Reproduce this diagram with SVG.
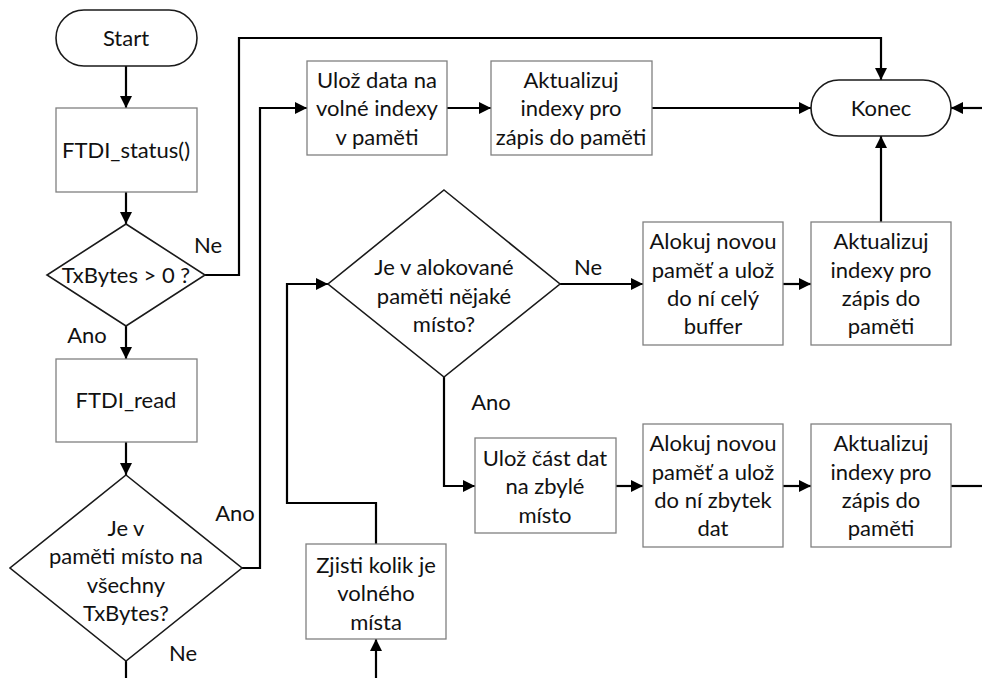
<svg xmlns="http://www.w3.org/2000/svg" width="982" height="678" viewBox="0 0 982 678">
  <defs>
    <marker id="arrow" markerUnits="userSpaceOnUse" markerWidth="13" markerHeight="13" refX="12" refY="6" orient="auto">
      <path d="M0,0 L12,6 L0,12 Z" fill="#000"/>
    </marker>
    <style>
      text { font-family: Lato, "Liberation Sans", sans-serif; font-size: 22px; fill: #111; text-anchor: middle; }
      .term { fill: #fff; stroke: #1a1a1a; stroke-width: 1.6; }
      .proc { fill: #fff; stroke: #808080; stroke-width: 1.3; }
      .dec { fill: #fff; stroke: #1a1a1a; stroke-width: 1.6; }
      .conn { fill: none; stroke: #000; stroke-width: 2.2; }
      .conn.arr { marker-end: url(#arrow); }
    </style>
  </defs>
  <rect width="982" height="678" fill="#fff"/>

  <!-- connectors -->
  <g id="connectors">
    <path class="conn arr" d="M126,66 V108"/>
    <path class="conn arr" d="M126,192 V224"/>
    <path class="conn arr" d="M205,275 H239 V38 H881 V80"/>
    <path class="conn arr" d="M126,326 V359"/>
    <path class="conn arr" d="M126,442 V475"/>
    <path class="conn arr" d="M242,568 H260 V108 H307"/>
    <path class="conn" d="M126,661 V678"/>
    <path class="conn arr" d="M447,108 H491"/>
    <path class="conn arr" d="M652,108 H811"/>
    <path class="conn arr" d="M982,108 H951"/>
    <path class="conn arr" d="M881,222 V136"/>
    <path class="conn arr" d="M560,284 H643"/>
    <path class="conn arr" d="M783,284 H811"/>
    <path class="conn arr" d="M444,377 V486 H475"/>
    <path class="conn arr" d="M616,486 H643"/>
    <path class="conn arr" d="M783,486 H811"/>
    <path class="conn" d="M951,486 H982"/>
    <path class="conn arr" d="M376,544 V503 H287 V284 H328"/>
    <path class="conn arr" d="M376,678 V639"/>
  </g>

  <!-- branch labels -->
  <g id="labels">
    <text x="208" y="253">Ne</text>
    <text x="87" y="343">Ano</text>
    <text x="235" y="521">Ano</text>
    <text x="183" y="661">Ne</text>
    <text x="588" y="275">Ne</text>
    <text x="491" y="410">Ano</text>
  </g>

  <g id="start">
    <rect class="term" x="56" y="10" width="141" height="56" rx="28"/>
    <text x="126" y="46">Start</text>
  </g>

  <g id="ftdi-status">
    <rect class="proc" x="56" y="108" width="141" height="84"/>
    <text x="126" y="158">FTDI_status()</text>
  </g>

  <g id="txbytes-check">
    <polygon class="dec" points="126,224 205,275 126,326 47,275"/>
    <text x="126" y="283">TxBytes &gt; 0 ?</text>
  </g>

  <g id="ftdi-read">
    <rect class="proc" x="56" y="359" width="141" height="83"/>
    <text x="126" y="408">FTDI_read</text>
  </g>

  <g id="space-check">
    <polygon class="dec" points="126,475 242,568 126,661 10,568"/>
    <text x="126" y="536">Je v</text>
    <text x="126" y="564">paměti místo na</text>
    <text x="126" y="593">všechny</text>
    <text x="126" y="621">TxBytes?</text>
  </g>

  <g id="store-free">
    <rect class="proc" x="307" y="61" width="140" height="94"/>
    <text x="377" y="88">Ulož data na</text>
    <text x="377" y="116">volné indexy</text>
    <text x="377" y="145">v paměti</text>
  </g>

  <g id="update-1">
    <rect class="proc" x="491" y="61" width="161" height="94"/>
    <text x="571" y="88">Aktualizuj</text>
    <text x="571" y="116">indexy pro</text>
    <text x="571" y="145">zápis do paměti</text>
  </g>

  <g id="end">
    <rect class="term" x="811" y="80" width="140" height="56" rx="28"/>
    <text x="881" y="116">Konec</text>
  </g>

  <g id="alloc-check">
    <polygon class="dec" points="444,190 560,284 444,377 328,284"/>
    <text x="444" y="275">Je v alokované</text>
    <text x="444" y="304">paměti nějaké</text>
    <text x="444" y="332">místo?</text>
  </g>

  <g id="alloc-whole">
    <rect class="proc" x="643" y="222" width="140" height="123"/>
    <text x="713" y="249">Alokuj novou</text>
    <text x="713" y="278">paměť a ulož</text>
    <text x="713" y="306">do ní celý</text>
    <text x="713" y="334">buffer</text>
  </g>

  <g id="update-2">
    <rect class="proc" x="811" y="222" width="140" height="123"/>
    <text x="881" y="249">Aktualizuj</text>
    <text x="881" y="278">indexy pro</text>
    <text x="881" y="306">zápis do</text>
    <text x="881" y="334">paměti</text>
  </g>

  <g id="store-part">
    <rect class="proc" x="475" y="438" width="141" height="95"/>
    <text x="545" y="466">Ulož část dat</text>
    <text x="545" y="494">na zbylé</text>
    <text x="545" y="523">místo</text>
  </g>

  <g id="alloc-rest">
    <rect class="proc" x="643" y="424" width="140" height="123"/>
    <text x="713" y="451">Alokuj novou</text>
    <text x="713" y="480">paměť a ulož</text>
    <text x="713" y="508">do ní zbytek</text>
    <text x="713" y="536">dat</text>
  </g>

  <g id="update-3">
    <rect class="proc" x="811" y="424" width="140" height="123"/>
    <text x="881" y="451">Aktualizuj</text>
    <text x="881" y="480">indexy pro</text>
    <text x="881" y="508">zápis do</text>
    <text x="881" y="536">paměti</text>
  </g>

  <g id="free-space">
    <rect class="proc" x="306" y="544" width="140" height="95"/>
    <text x="376" y="573">Zjisti kolik je</text>
    <text x="376" y="601">volného</text>
    <text x="376" y="630">místa</text>
  </g>
</svg>
